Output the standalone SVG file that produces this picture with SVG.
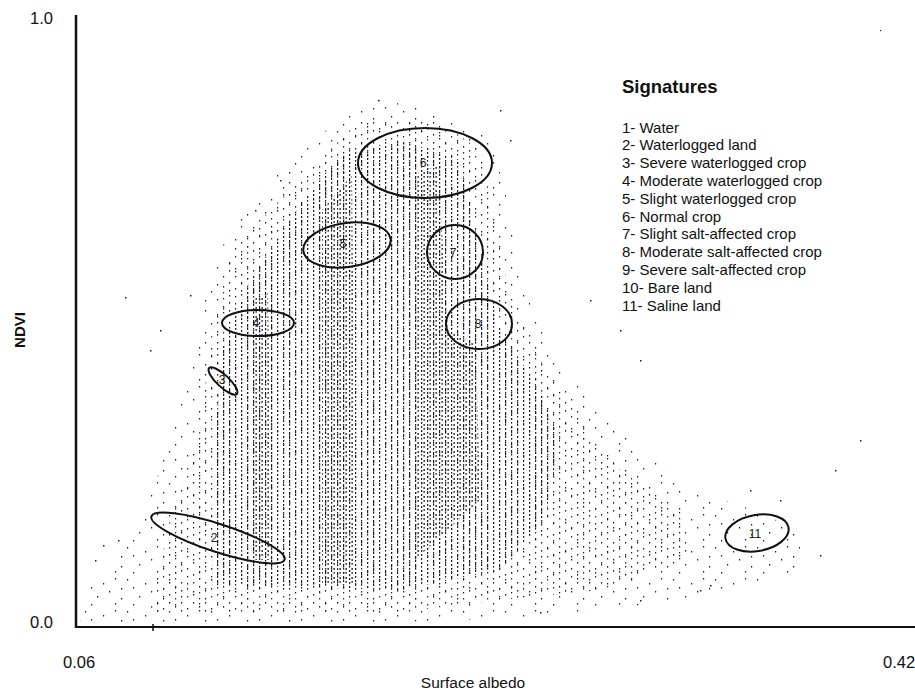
<svg xmlns="http://www.w3.org/2000/svg" width="915" height="690" viewBox="0 0 915 690">
  <style>
    .lbl { font-family: "Liberation Sans", Arial, sans-serif; fill: #111; }
    .tick { font-size: 16.5px; }
    .leg { font-size: 15px; }
    .ell { fill: none; stroke: #111; stroke-width: 2; }
    .num { font-family: "Liberation Sans", Arial, sans-serif; font-size: 12px; fill: #222; text-anchor: middle; }
    .axis { stroke: #111; fill: none; }
    .d { fill: #1e1e1e; }
  </style>
  <defs>
    <!-- scatter dot textures: sparse fringe, medium body, dense columnar core -->
    <pattern id="dotsSparse" width="42" height="32" patternUnits="userSpaceOnUse">
      <rect class="d" x="1" y="3" width="1.2" height="1.5"/>
      <rect class="d" x="13" y="20" width="1.2" height="1.5"/>
      <rect class="d" x="19" y="7" width="1.2" height="1.5"/>
      <rect class="d" x="31" y="27" width="1.2" height="1.5"/>
      <rect class="d" x="37" y="12" width="1.2" height="1.5"/>
      <rect class="d" x="7" y="28" width="1.2" height="1.5"/>
      <rect class="d" x="25" y="15" width="1.2" height="1.5"/>
      <rect class="d" x="7" y="11" width="1.2" height="1.5"/>
      <rect class="d" x="31" y="2" width="1.2" height="1.5"/>
      <rect class="d" x="37" y="22" width="1.2" height="1.5"/>
    </pattern>
    <pattern id="dotsMedium" width="24" height="20" patternUnits="userSpaceOnUse">
      <rect class="d" x="1" y="2" width="1.2" height="1.6"/>
      <rect class="d" x="1" y="14" width="1.2" height="1.6"/>
      <rect class="d" x="7" y="6" width="1.2" height="1.6"/>
      <rect class="d" x="7" y="18" width="1.2" height="1.4"/>
      <rect class="d" x="13" y="2" width="1.2" height="1.6"/>
      <rect class="d" x="13" y="10" width="1.2" height="1.6"/>
      <rect class="d" x="19" y="8" width="1.2" height="1.6"/>
      <rect class="d" x="19" y="16" width="1.2" height="1.4"/>
      <rect class="d" x="7" y="12" width="1.2" height="1.4"/>
    </pattern>
    <pattern id="dotsDense" width="18" height="16" patternUnits="userSpaceOnUse">
      <rect class="d" x="1" y="0" width="1.2" height="2"/>
      <rect class="d" x="1" y="4" width="1.2" height="2"/>
      <rect class="d" x="1" y="8" width="1.2" height="1.6"/>
      <rect class="d" x="1" y="12" width="1.2" height="2"/>
      <rect class="d" x="7" y="2" width="1.2" height="2"/>
      <rect class="d" x="7" y="6" width="1.2" height="1.6"/>
      <rect class="d" x="7" y="10" width="1.2" height="2"/>
      <rect class="d" x="7" y="14" width="1.2" height="2"/>
      <rect class="d" x="13" y="0" width="1.2" height="1.6"/>
      <rect class="d" x="13" y="4" width="1.2" height="2"/>
      <rect class="d" x="13" y="8" width="1.2" height="2"/>
      <rect class="d" x="13" y="12" width="1.2" height="2"/>
    </pattern>
    <pattern id="dotsCols" width="6" height="9" patternUnits="userSpaceOnUse">
      <rect class="d" x="3.5" y="1" width="1.3" height="2"/>
      <rect class="d" x="3.5" y="5" width="1.3" height="1.8"/>
    </pattern>
    <clipPath id="outerCloud">
      <path d="M80,622 L85,590 L110,570 L140,520 L160,470 L175,420 L195,360 L205,300 L225,240 L260,190 L300,150 L340,120 L375,100 L410,105 L450,120 L490,135 L505,190 L518,260 L535,320 L565,370 L605,410 L640,450 L690,490 L740,505 L800,530 L800,570 L740,590 L680,600 L600,610 L520,618 L400,622 Z"/>
    </clipPath>
    <clipPath id="midCloud">
      <path d="M150,612 L170,520 L200,430 L212,330 L232,250 L280,200 L320,160 L360,120 L440,122 L480,150 L495,220 L510,300 L540,360 L580,420 L620,470 L680,510 L690,560 L600,590 L500,600 L400,612 Z"/>
    </clipPath>
    <clipPath id="coreCloud">
      <path d="M212,585 L214,450 L222,350 L250,280 L300,205 L340,155 L400,140 L460,160 L480,250 L500,330 L540,390 L560,440 L545,520 L500,570 L400,590 Z"/>
    </clipPath>
    <clipPath id="colCloud">
      <path d="M322,585 L322,210 L352,175 L356,585 Z M415,560 L415,175 L438,165 L448,330 L476,345 L480,500 Z M252,560 L252,300 L268,292 L272,560 Z"/>
    </clipPath>
  </defs>

  <!-- scatter cloud -->
  <g id="scatter">
    <rect x="70" y="90" width="740" height="540" fill="url(#dotsSparse)" clip-path="url(#outerCloud)"/>
    <rect x="70" y="90" width="740" height="540" fill="url(#dotsMedium)" clip-path="url(#midCloud)"/>
    <rect x="70" y="90" width="740" height="540" fill="url(#dotsDense)" clip-path="url(#coreCloud)"/>
    <rect x="70" y="90" width="740" height="540" fill="url(#dotsCols)" clip-path="url(#colCloud)"/>
    <!-- scattered outliers -->
    <g class="d">
      <rect x="125" y="297" width="1.5" height="1.5"/>
      <rect x="160" y="330" width="1.5" height="1.5"/>
      <rect x="150" y="350" width="1.5" height="1.5"/>
      <rect x="95" y="560" width="1.5" height="1.5"/>
      <rect x="103" y="545" width="1.5" height="1.5"/>
      <rect x="118" y="540" width="1.5" height="1.5"/>
      <rect x="700" y="590" width="1.5" height="1.5"/>
      <rect x="710" y="585" width="1.5" height="1.5"/>
      <rect x="860" y="440" width="1.5" height="1.5"/>
      <rect x="835" y="470" width="1.5" height="1.5"/>
      <rect x="820" y="555" width="1.5" height="1.5"/>
      <rect x="620" y="330" width="1.5" height="1.5"/>
      <rect x="640" y="360" width="1.5" height="1.5"/>
      <rect x="590" y="300" width="1.5" height="1.5"/>
      <rect x="510" y="140" width="1.5" height="1.5"/>
      <rect x="500" y="110" width="1.5" height="1.5"/>
      <rect x="378" y="100" width="1.5" height="1.5"/>
      <rect x="255" y="210" width="1.5" height="1.5"/>
      <rect x="280" y="180" width="1.5" height="1.5"/>
      <rect x="190" y="295" width="1.5" height="1.5"/>
      <rect x="640" y="600" width="1.5" height="1.5"/>
      <rect x="540" y="612" width="1.5" height="1.5"/>
      <rect x="780" y="500" width="1.5" height="1.5"/>
      <rect x="750" y="490" width="1.5" height="1.5"/>
      <rect x="880" y="30" width="1.2" height="1.2"/>
    </g>
  </g>

  <!-- axes -->
  <g id="axes">
    <line class="axis" x1="76" y1="15" x2="76" y2="628" stroke-width="2.5"/>
    <line class="axis" x1="75" y1="627" x2="915" y2="627" stroke-width="2"/>
    <line class="axis" x1="153" y1="624" x2="153" y2="631" stroke-width="1.5"/>
    <text class="lbl tick" x="30" y="24">1.0</text>
    <text class="lbl tick" x="30" y="628">0.0</text>
    <text class="lbl tick" x="63" y="668">0.06</text>
    <text class="lbl tick" x="883" y="668">0.42</text>
    <text class="lbl" x="473" y="688" text-anchor="middle" font-size="15.5">Surface albedo</text>
    <text class="lbl" font-size="15" font-weight="bold" transform="translate(25,330) rotate(-90)" text-anchor="middle">NDVI</text>
  </g>

  <!-- signature ellipses -->
  <g id="sig6"><ellipse class="ell" cx="425" cy="163" rx="67" ry="35"/><text class="num" x="423" y="167">6</text></g>
  <g id="sig5"><ellipse class="ell" cx="347" cy="245" rx="44" ry="22" transform="rotate(-8 347 245)"/><text class="num" x="343" y="248">5</text></g>
  <g id="sig7"><ellipse class="ell" cx="455" cy="252" rx="28" ry="27"/><text class="num" x="453" y="257">7</text></g>
  <g id="sig8"><ellipse class="ell" cx="479" cy="324" rx="33" ry="25"/><text class="num" x="478" y="328">8</text></g>
  <g id="sig4"><ellipse class="ell" cx="258" cy="323" rx="36" ry="13"/><text class="num" x="256" y="327">4</text></g>
  <g id="sig3"><ellipse class="ell" cx="223" cy="381" rx="19" ry="6" transform="rotate(43 223 381)"/><text class="num" x="222" y="384" font-size="8">3</text></g>
  <g id="sig2"><ellipse class="ell" cx="218" cy="538" rx="70" ry="14" transform="rotate(18 218 538)"/><text class="num" x="214" y="542">2</text></g>
  <g id="sig11"><ellipse class="ell" cx="757" cy="533" rx="32" ry="18" transform="rotate(-10 757 533)"/><text class="num" x="755" y="538">11</text></g>

  <!-- legend -->
  <g id="legend" class="lbl">
    <text x="622" y="93" font-size="18.5" font-weight="bold">Signatures</text>
    <text class="leg" x="622" y="132.5">1- Water</text>
    <text class="leg" x="622" y="150.3">2- Waterlogged land</text>
    <text class="leg" x="622" y="168.1">3- Severe waterlogged crop</text>
    <text class="leg" x="622" y="185.9">4- Moderate waterlogged crop</text>
    <text class="leg" x="622" y="203.7">5- Slight waterlogged crop</text>
    <text class="leg" x="622" y="221.5">6- Normal crop</text>
    <text class="leg" x="622" y="239.3">7- Slight salt-affected crop</text>
    <text class="leg" x="622" y="257.1">8- Moderate salt-affected crop</text>
    <text class="leg" x="622" y="274.9">9- Severe salt-affected crop</text>
    <text class="leg" x="622" y="292.7">10- Bare land</text>
    <text class="leg" x="622" y="310.5">11- Saline land</text>
  </g>
</svg>
